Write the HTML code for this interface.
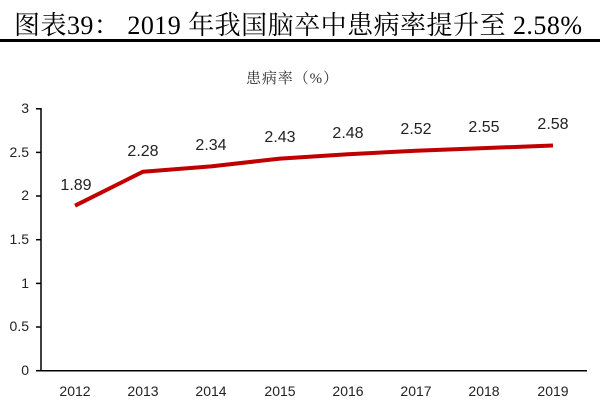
<!DOCTYPE html>
<html><head><meta charset="utf-8"><style>
body{margin:0;width:600px;height:400px;background:#fff;overflow:hidden}
</style></head><body>
<svg width="600" height="400" xmlns="http://www.w3.org/2000/svg">
<text x="14" y="34" font-family="Liberation Serif, Noto Serif CJK SC, serif" font-size="26" textLength="568" lengthAdjust="spacing" fill="#000">图表39：  2019 年我国脑卒中患病率提升至 2.58%</text>
<rect x="0" y="39" width="600" height="3" fill="#000"/>
<text x="246" y="83" font-family="Liberation Serif, Noto Serif CJK SC, serif" font-size="15" textLength="92" lengthAdjust="spacing" fill="#333">患病率（%）</text>
<g font-family="Liberation Sans, sans-serif" font-size="14" fill="#222" text-anchor="end">
<text x="29" y="375">0</text><text x="29" y="331">0.5</text><text x="29" y="288">1</text>
<text x="29" y="244">1.5</text><text x="29" y="200">2</text><text x="29" y="157">2.5</text><text x="29" y="113">3</text>
</g>
<g stroke="#000" stroke-width="1.5">
<line x1="41" y1="108" x2="41" y2="371"/><line x1="41" y1="370.7" x2="587" y2="370.7"/>
<line x1="36" y1="108.8" x2="41" y2="108.8"/><line x1="36" y1="152.4" x2="41" y2="152.4"/>
<line x1="36" y1="196" x2="41" y2="196"/><line x1="36" y1="239.7" x2="41" y2="239.7"/>
<line x1="36" y1="283.4" x2="41" y2="283.4"/><line x1="36" y1="327" x2="41" y2="327"/>
<line x1="36" y1="370.7" x2="41" y2="370.7"/>
</g>
<g font-family="Liberation Sans, sans-serif" font-size="14" fill="#222" text-anchor="middle">
<text x="75" y="396">2012</text><text x="143" y="396">2013</text><text x="211" y="396">2014</text><text x="280" y="396">2015</text>
<text x="348" y="396">2016</text><text x="416" y="396">2017</text><text x="484" y="396">2018</text><text x="553" y="396">2019</text>
</g>
<polyline fill="none" stroke="#c00000" stroke-width="4" stroke-linejoin="round" points="75,205.7 143,171.7 211,166.4 280,158.6 348,154.2 416,150.7 484,148.1 553,145.5"/>
<g font-family="Liberation Sans, sans-serif" font-size="16" fill="#222" text-anchor="middle">
<text x="76" y="190">1.89</text><text x="143" y="156">2.28</text><text x="211" y="150">2.34</text><text x="280" y="142">2.43</text>
<text x="348" y="138">2.48</text><text x="416" y="134">2.52</text><text x="484" y="132">2.55</text><text x="553" y="129">2.58</text>
</g>
</svg>
</body></html>
